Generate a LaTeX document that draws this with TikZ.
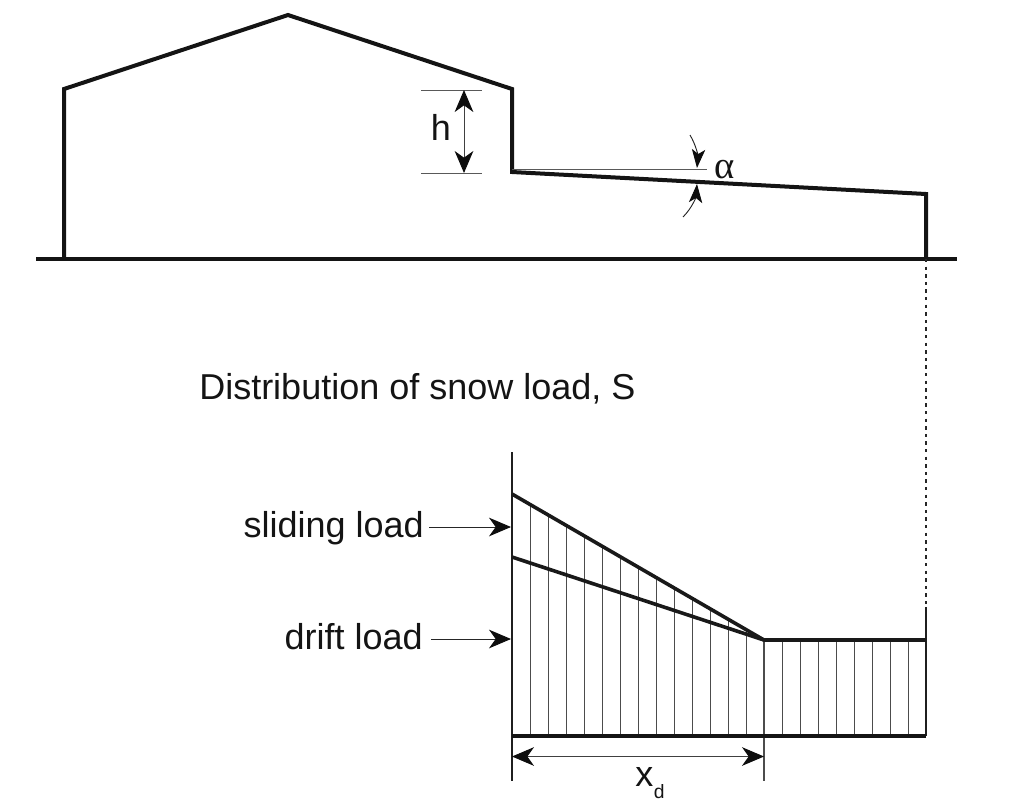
\documentclass[tikz,border=0pt]{standalone}
\usepackage{fontspec}
\setmainfont{Liberation Sans}
\newfontfamily\alphafont{Liberation Serif}
\usetikzlibrary{arrows.meta}
\tikzset{
  bigtip/.tip={Stealth[length=16.5pt,width=14pt,inset=5pt,color=black!95]},
  smalltip/.tip={Stealth[length=14pt,width=10pt,inset=3.5pt,color=black!95]},
  heavy/.style={line width=3pt,draw=black!92,line join=miter},
  heavyb/.style={line width=2.7pt,draw=black!90,line join=miter},
  medium/.style={line width=1.5pt,draw=black!88},
  thinl/.style={line width=0.7pt,draw=black!65},
  hatch/.style={line width=0.75pt,draw=black!70},
  dim/.style={line width=0.7pt,draw=black!75,bigtip-bigtip},
  pointer/.style={line width=0.7pt,draw=black!85,-bigtip},
  smallptr/.style={line width=0.7pt,draw=black!85,-smalltip},
  lab/.style={inner sep=0pt,font=\fontsize{27}{32}\selectfont,text=black!92}
}
\begin{document}
\begin{tikzpicture}[x=0.75pt,y=-0.75pt]
\useasboundingbox (0,0) rectangle (1017,808);
% building
\coordinate (g1) at (64,259);
\coordinate (e1) at (64,89);
\coordinate (r) at (288,15);
\coordinate (e2) at (512,89);
\coordinate (s) at (512,172);
\coordinate (e3) at (926,194);
\coordinate (g2) at (926,259);
\coordinate (gl) at (36,259);
\coordinate (gr) at (957,259);
\draw[heavy] (g1) -- (e1) -- (r) -- (e2) -- (s) -- (e3) -- (g2);
\draw[heavy] (gl) -- (gr);
% h dimension
\coordinate (ha) at (421,90);\coordinate (hb) at (482,90);
\coordinate (hc) at (421,173);\coordinate (hd) at (482,173);
\coordinate (he) at (464,90);\coordinate (hf) at (464,173);
\draw[thinl] (ha) -- (hb);
\draw[thinl] (hc) -- (hd);
\draw[dim] (he) -- (hf);
\node[lab,anchor=base] (hl) at (441,140) {h};
% alpha
\coordinate (a0) at (512,169.5);
\coordinate (al) at (707,169.5);
\coordinate (a1) at (690,135);\coordinate (a2) at (697,168);
\coordinate (a3) at (683,217);\coordinate (a4) at (697,184);
\draw[thinl] (a0) -- (al);
\draw[smallptr] (a1) .. controls (696,145) and (698,156) .. (a2);
\draw[smallptr] (a3) .. controls (692,208) and (696,197) .. (a4);
\node[inner sep=0pt,anchor=base west,font=\alphafont\fontsize{29}{32}\selectfont,text=black!92] (alpha) at (714,178) {α};
% dotted
\coordinate (d2) at (926,607);
\draw[line width=1pt,draw=black!85,dash pattern=on 2.5pt off 3.2pt] (g2) -- (d2);
% title
\node[lab,anchor=base west] (title) at (199,399) {Distribution of snow load, S};
% load diagram
\coordinate (ax1) at (512,452);\coordinate (ax2) at (512,781);
\coordinate (p1) at (512,494);\coordinate (p2) at (512,557);
\coordinate (k) at (764,640);\coordinate (q) at (926,640);
\coordinate (b1) at (512,736);\coordinate (b2) at (926,736);
\coordinate (t) at (764,781);
\foreach \i in {1,...,13}{
  \pgfmathsetmacro\xx{512+18*\i}
  \pgfmathsetmacro\yy{494+146*\i/14}
  \draw[hatch] (\xx,\yy) -- (\xx,736);
}
\foreach \i in {1,...,8}{
  \pgfmathsetmacro\xx{764+18*\i}
  \draw[hatch] (\xx,640) -- (\xx,736);
}
\draw[medium] (ax1) -- (ax2);
\draw[hatch,line width=1pt] (k) -- (t);
\draw[medium] (d2) -- (b2);
\draw[heavyb] (p1) -- (k);
\draw[heavyb] (p2) -- (k) -- (q);
\draw[heavy] (b1) -- (b2);
\coordinate (x1) at (512,756.5);\coordinate (x2) at (764,756.5);
\draw[dim] (x1) -- (x2);
\node[lab,anchor=base west] (xd) at (635,786) {x};
\node[inner sep=0pt,anchor=base west,font=\fontsize{14.5}{17}\selectfont,text=black!92] (xds) at (653.5,798) {d};
% labels
\node[lab,anchor=base east] (sl) at (424,537) {sliding load};
\node[lab,anchor=base east] (dl) at (423,649) {drift load};
\coordinate (sl1) at (429,527);\coordinate (sl2) at (511,527);
\coordinate (dl1) at (431,639);\coordinate (dl2) at (511,639);
\draw[pointer] (sl1) -- (sl2);
\draw[pointer] (dl1) -- (dl2);
\end{tikzpicture}
\end{document}
